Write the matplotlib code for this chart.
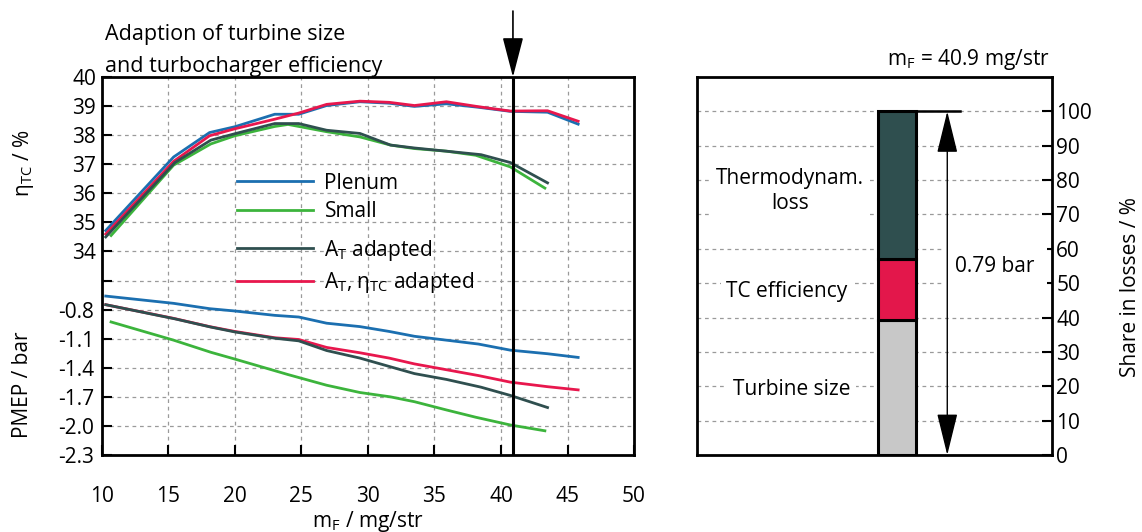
import matplotlib.pyplot as plt
import numpy as np

plt.rcParams['font.family'] = ['Open Sans', 'DejaVu Sans']
plt.rcParams['font.size'] = 15
plt.rcParams['mathtext.fontset'] = 'custom'
plt.rcParams['mathtext.rm'] = 'Open Sans'
plt.rcParams['mathtext.it'] = 'Open Sans:italic'
plt.rcParams['axes.unicode_minus'] = False

# operating points, fuel mass per stroke in mg/str
mf_plenum = [10.3, 15.4, 18.1, 20.0, 23.0, 24.8, 26.9, 29.4, 31.6, 33.5, 35.9, 38.3, 40.7, 43.5, 45.8]
eta_plenum = [34.72, 37.25, 38.09, 38.29, 38.72, 38.72, 39.02, 39.15, 39.10, 38.99, 39.08, 38.96, 38.82, 38.79, 38.38]
pmep_plenum = [-0.66, -0.735, -0.79, -0.814, -0.859, -0.876, -0.94, -0.975, -1.025, -1.075, -1.115, -1.155, -1.218, -1.255, -1.293]

mf_small = [10.7, 15.4, 18.2, 20.0, 23.0, 24.0, 26.9, 29.4, 31.7, 33.5, 35.9, 38.1, 40.7, 43.3]
eta_small = [34.55, 36.97, 37.70, 37.98, 38.30, 38.37, 38.12, 37.94, 37.66, 37.54, 37.45, 37.31, 36.91, 36.18]
pmep_small = [-0.927, -1.115, -1.24, -1.31, -1.43, -1.47, -1.58, -1.655, -1.70, -1.75, -1.835, -1.91, -1.99, -2.05]

mf_at = [10.3, 15.5, 18.2, 20.0, 23.0, 24.8, 26.9, 29.4, 31.7, 33.5, 35.9, 38.5, 40.7, 43.5]
eta_at = [34.50, 37.06, 37.83, 38.05, 38.40, 38.40, 38.17, 38.06, 37.66, 37.56, 37.45, 37.33, 37.06, 36.36]
pmep_at = [-0.749, -0.895, -0.98, -1.03, -1.095, -1.122, -1.222, -1.30, -1.39, -1.46, -1.52, -1.60, -1.685, -1.81]

mf_at_eta = [10.3, 15.4, 18.1, 20.0, 23.0, 24.8, 26.9, 29.4, 31.6, 33.5, 35.9, 38.3, 40.7, 43.5, 45.8]
eta_at_eta = [34.60, 37.10, 37.98, 38.22, 38.55, 38.76, 39.06, 39.17, 39.13, 39.02, 39.15, 38.98, 38.83, 38.84, 38.48]
pmep_at_eta = [-0.749, -0.89, -0.975, -1.025, -1.09, -1.108, -1.19, -1.245, -1.30, -1.36, -1.42, -1.48, -1.548, -1.595, -1.628]

eta_ticks = [34, 35, 36, 37, 38, 39, 40]
pmep_ticks = [-0.8, -1.1, -1.4, -1.7, -2.0, -2.3]
mf_sel = 40.9

# loss split at the selected point
loss_names = ['Turbine size', 'TC efficiency', 'Thermodynam.\nloss']
loss_share = [39.4, 17.5, 43.1]
loss_total = 0.79

c_plenum = '#1b6fb0'
c_small = '#3cb43c'
c_at = '#2f4f4f'
c_at_eta = '#e8174d'
bar_colors = ['#c8c8c8', '#e3174b', '#2f4f4f']
grid_kw = dict(color='#9a9a9a', linestyle=(0, (3, 3)), linewidth=0.9)
lw = 2.0

fig = plt.figure(figsize=(11.42, 5.32), dpi=100)

# left: efficiency (upper scale) and PMEP (lower scale) in one frame
ax = fig.add_axes([0.0891, 0.1447, 0.4661, 0.7105])
ax.set_xlim(10, 50)
ax.set_ylim(27, 40)
ax2 = ax.twinx()
ax2.set_ylim(-2.3, 1.6)
ax2.yaxis.tick_left()
for s in ax2.spines.values():
    s.set_visible(False)
for s in ax.spines.values():
    s.set_linewidth(2)

ax.set_xticks(np.arange(10, 51, 5))
ax.tick_params(axis='x', direction='in', length=7, width=1.5, pad=22)
grid_rows = np.arange(27, 41)
ax.set_yticks(grid_rows)
ax.set_yticklabels([str(v) if v in eta_ticks else '' for v in grid_rows])
ax.tick_params(axis='y', direction='in', length=7, width=1.5, pad=4)
ax2.set_yticks(pmep_ticks)
ax2.set_yticklabels(['%.1f' % v for v in pmep_ticks])
ax2.tick_params(axis='y', length=0, pad=5.5)
ax.grid(True, **grid_kw)

l_plenum, = ax.plot(mf_plenum, eta_plenum, color=c_plenum, lw=lw)
l_small, = ax.plot(mf_small, eta_small, color=c_small, lw=lw)
l_at_eta, = ax.plot(mf_at_eta, eta_at_eta, color=c_at_eta, lw=lw)
l_at, = ax.plot(mf_at, eta_at, color=c_at, lw=lw)
ax2.plot(mf_plenum, pmep_plenum, color=c_plenum, lw=lw)
ax2.plot(mf_small, pmep_small, color=c_small, lw=lw)
ax2.plot(mf_at_eta, pmep_at_eta, color=c_at_eta, lw=lw)
ax2.plot(mf_at, pmep_at, color=c_at, lw=lw)

ax2.axvline(mf_sel, color='black', lw=2.2, zorder=6)
ax2.annotate('', xy=(mf_sel, 1.6), xytext=(0, 66), textcoords='offset pixels',
             annotation_clip=False,
             arrowprops=dict(arrowstyle='-|>,head_length=2.5,head_width=0.65',
                             color='black', lw=1.2, shrinkA=0, shrinkB=0,
                             mutation_scale=10))

leg_kw = dict(loc='center left', frameon=False, borderpad=0, borderaxespad=0,
              handlelength=3.65, handletextpad=0.55, labelspacing=0.35)
leg1 = ax2.legend([l_plenum, l_small], ['Plenum', 'Small'],
                  bbox_to_anchor=(0.254, 0.682), **leg_kw)
ax2.add_artist(leg1)
ax2.legend([l_at, l_at_eta],
           ['A$_\\mathrm{T}$ adapted', 'A$_\\mathrm{T}$, η$_\\mathrm{TC}$ adapted'],
           bbox_to_anchor=(0.254, 0.499), **leg_kw)

ax.set_xlabel('m$_\\mathrm{F}$ / mg/str')
ax.xaxis.set_label_coords(0.5, -0.143)
fig.text(23 / 1142, 1 - 163 / 532, 'η$_\\mathrm{TC}$ / %', rotation=90,
         ha='center', va='center')
fig.text(23 / 1142, 1 - 385 / 532, 'PMEP / bar', rotation=90,
         ha='center', va='center')
fig.text(105 / 1142, 1 - 40 / 532, 'Adaption of turbine size', va='baseline',
         fontsize=15.5)
fig.text(105 / 1142, 1 - 72 / 532, 'and turbocharger efficiency', va='baseline',
         fontsize=15.5)

# right: share of each loss in the PMEP difference
axr = fig.add_axes([0.6103, 0.1447, 0.3109, 0.7105])
axr.set_xlim(0, 1)
axr.set_ylim(0, 110)
axr.set_xticks([])
axr.yaxis.tick_right()
axr.set_yticks(np.arange(0, 101, 10))
axr.tick_params(axis='y', direction='in', length=7, width=1.5, pad=3)
axr.yaxis.grid(True, **grid_kw)
for s in axr.spines.values():
    s.set_linewidth(2)

bar_x = 0.563
bar_w = 0.108
bottoms = np.concatenate([[0], np.cumsum(loss_share)[:-1]])
axr.bar(bar_x, loss_share, bottom=bottoms, width=bar_w, color=bar_colors,
        edgecolor='black', linewidth=2.2, zorder=3)

top = bottoms[-1] + loss_share[-1]
arrow_x = 0.705
axr.plot([bar_x + bar_w / 2, 0.741], [top, top], color='black', lw=1.8, zorder=4)
axr.annotate('', xy=(arrow_x, 0), xytext=(arrow_x, top),
             arrowprops=dict(arrowstyle='<|-|>,head_length=2.65,head_width=0.65',
                             color='black', lw=1, shrinkA=0, shrinkB=0,
                             mutation_scale=10), zorder=5)

label_pos = {'Turbine size': (0.267, 19.1),
             'TC efficiency': (0.253, 47.5),
             'Thermodynam.\nloss': (0.262, 76.8)}
for name in loss_names:
    lx, ly = label_pos[name]
    axr.text(lx, ly, name, ha='center', va='center', linespacing=1.25,
             bbox=dict(facecolor='white', edgecolor='none', pad=4), zorder=3)
axr.text(0.839, 55, '%.2f bar' % loss_total, ha='center', va='center',
         bbox=dict(facecolor='white', edgecolor='none', pad=9), zorder=3)

fig.text(1050 / 1142, 1 - 65 / 532, 'm$_\\mathrm{F}$ = %.1f mg/str' % mf_sel,
         ha='right', va='baseline')
fig.text(1131 / 1142, 1 - 287 / 532, 'Share in losses / %', rotation=90,
         ha='center', va='center')

fig.savefig('out.png', dpi=100)
